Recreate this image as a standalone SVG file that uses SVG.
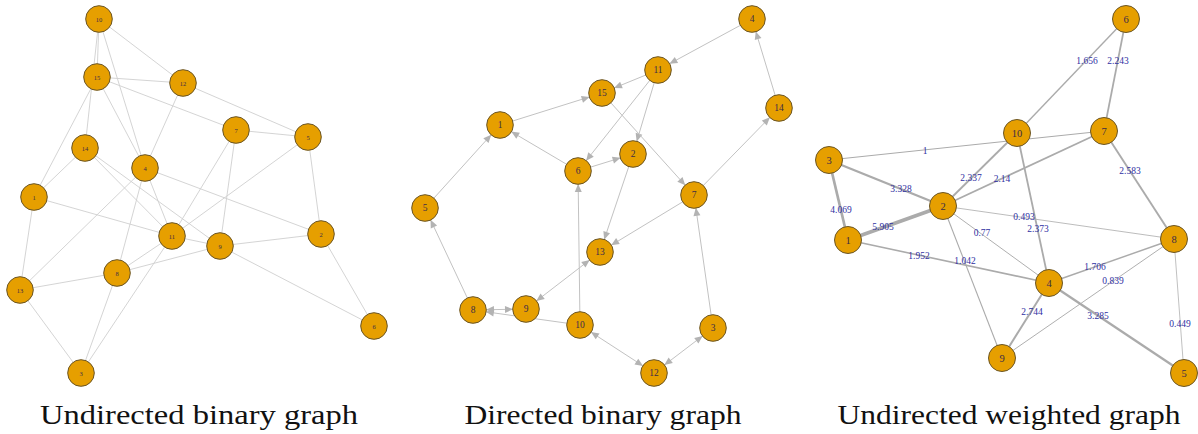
<svg xmlns="http://www.w3.org/2000/svg" width="1198" height="434" viewBox="0 0 1198 434">
<style>
.bg{fill:#ffffff}
.n circle{fill:#E69F00;stroke:#6a5526;stroke-width:1}
.n text{font-family:"Liberation Serif","DejaVu Serif",serif;fill:#3a2c48;text-anchor:middle;dominant-baseline:central}
.L .n text{font-size:6.5px}
.M .n text{font-size:9.5px}
.R .n text{font-size:10.5px}
.eL line{stroke:#cfcfcf;stroke-width:0.9}
.eM line{stroke:#c2c2c2;stroke-width:1;marker-end:url(#arr)}
.eM line.both{marker-start:url(#arr)}
.eR line{stroke:#ababab}
.wl{font-family:"Liberation Serif","DejaVu Serif",serif;font-size:9.5px;fill:#2f2fa2;text-anchor:middle;dominant-baseline:central}
.cap{font-family:"Liberation Serif","DejaVu Serif",serif;font-size:27px;fill:#111;text-anchor:middle}
</style>
<defs>
<marker id="arr" markerUnits="userSpaceOnUse" markerWidth="30" markerHeight="10" refX="21" refY="3.5" orient="auto-start-reverse" overflow="visible">
<path d="M0,0 L8,3.5 L0,7 z" fill="#b3b3b3"/>
</marker>
</defs>
<rect class="bg" x="0" y="0" width="1198" height="434"/>

<!-- LEFT: Undirected binary graph -->
<g class="L">
<g id="edges-left" class="eL">
<line x1="99" y1="19" x2="97" y2="77"/>
<line x1="99" y1="19" x2="85" y2="148"/>
<line x1="99" y1="19" x2="183" y2="83"/>
<line x1="99" y1="19" x2="145" y2="168"/>
<line x1="97" y1="77" x2="183" y2="83"/>
<line x1="97" y1="77" x2="236" y2="130"/>
<line x1="97" y1="77" x2="145" y2="168"/>
<line x1="97" y1="77" x2="34" y2="197"/>
<line x1="183" y1="83" x2="145" y2="168"/>
<line x1="183" y1="83" x2="308" y2="137"/>
<line x1="236" y1="130" x2="308" y2="137"/>
<line x1="236" y1="130" x2="172" y2="236"/>
<line x1="236" y1="130" x2="220" y2="246"/>
<line x1="308" y1="137" x2="172" y2="236"/>
<line x1="308" y1="137" x2="321" y2="234"/>
<line x1="85" y1="148" x2="34" y2="197"/>
<line x1="85" y1="148" x2="172" y2="236"/>
<line x1="85" y1="148" x2="220" y2="246"/>
<line x1="145" y1="168" x2="20" y2="290"/>
<line x1="145" y1="168" x2="117" y2="273"/>
<line x1="145" y1="168" x2="321" y2="234"/>
<line x1="145" y1="168" x2="172" y2="236"/>
<line x1="34" y1="197" x2="172" y2="236"/>
<line x1="34" y1="197" x2="20" y2="290"/>
<line x1="172" y1="236" x2="220" y2="246"/>
<line x1="172" y1="236" x2="117" y2="273"/>
<line x1="172" y1="236" x2="81" y2="373"/>
<line x1="220" y1="246" x2="321" y2="234"/>
<line x1="220" y1="246" x2="117" y2="273"/>
<line x1="220" y1="246" x2="374" y2="326"/>
<line x1="321" y1="234" x2="374" y2="326"/>
<line x1="117" y1="273" x2="20" y2="290"/>
<line x1="117" y1="273" x2="81" y2="373"/>
<line x1="20" y1="290" x2="81" y2="373"/>
</g>
<g id="L10" class="n"><circle cx="99" cy="19" r="13.3"/><text x="99" y="19">10</text></g>
<g id="L15" class="n"><circle cx="97" cy="77" r="13.3"/><text x="97" y="77">15</text></g>
<g id="L12" class="n"><circle cx="183" cy="83" r="13.3"/><text x="183" y="83">12</text></g>
<g id="L7" class="n"><circle cx="236" cy="130" r="13.3"/><text x="236" y="130">7</text></g>
<g id="L5" class="n"><circle cx="308" cy="137" r="13.3"/><text x="308" y="137">5</text></g>
<g id="L14" class="n"><circle cx="85" cy="148" r="13.3"/><text x="85" y="148">14</text></g>
<g id="L4" class="n"><circle cx="145" cy="168" r="13.3"/><text x="145" y="168">4</text></g>
<g id="L1" class="n"><circle cx="34" cy="197" r="13.3"/><text x="34" y="197">1</text></g>
<g id="L11" class="n"><circle cx="172" cy="236" r="13.3"/><text x="172" y="236">11</text></g>
<g id="L9" class="n"><circle cx="220" cy="246" r="13.3"/><text x="220" y="246">9</text></g>
<g id="L2" class="n"><circle cx="321" cy="234" r="13.3"/><text x="321" y="234">2</text></g>
<g id="L8" class="n"><circle cx="117" cy="273" r="13.3"/><text x="117" y="273">8</text></g>
<g id="L13" class="n"><circle cx="20" cy="290" r="13.3"/><text x="20" y="290">13</text></g>
<g id="L6" class="n"><circle cx="374" cy="326" r="13.3"/><text x="374" y="326">6</text></g>
<g id="L3" class="n"><circle cx="81" cy="373" r="13.3"/><text x="81" y="373">3</text></g>
</g>

<!-- MIDDLE: Directed binary graph -->
<g class="M">
<g id="edges-middle" class="eM">
<line x1="752" y1="19" x2="658" y2="70"/>
<line x1="658" y1="70" x2="602" y2="93"/>
<line x1="500" y1="125" x2="602" y2="93"/>
<line x1="779" y1="108" x2="752" y2="19"/>
<line x1="658" y1="70" x2="578" y2="171"/>
<line x1="658" y1="70" x2="633" y2="154"/>
<line x1="602" y1="93" x2="694" y2="195"/>
<line x1="578" y1="171" x2="500" y2="125"/>
<line x1="578" y1="171" x2="633" y2="154"/>
<line x1="425" y1="208" x2="500" y2="125"/>
<line x1="694" y1="195" x2="779" y2="108"/>
<line x1="580" y1="325" x2="578" y2="171"/>
<line x1="633" y1="154" x2="600" y2="252"/>
<line x1="694" y1="195" x2="600" y2="252"/>
<line class="both" x1="526" y1="309" x2="600" y2="252"/>
<line x1="473" y1="310" x2="425" y2="208"/>
<line class="both" x1="526" y1="309" x2="473" y2="310"/>
<line x1="580" y1="325" x2="473" y2="310"/>
<line class="both" x1="580" y1="325" x2="654" y2="373"/>
<line class="both" x1="713" y1="328" x2="654" y2="373"/>
<line x1="713" y1="328" x2="694" y2="195"/>
</g>
<g id="M4" class="n"><circle cx="752" cy="19" r="13.3"/><text x="752" y="19">4</text></g>
<g id="M11" class="n"><circle cx="658" cy="70" r="13.3"/><text x="658" y="70">11</text></g>
<g id="M15" class="n"><circle cx="602" cy="93" r="13.3"/><text x="602" y="93">15</text></g>
<g id="M14" class="n"><circle cx="779" cy="108" r="13.3"/><text x="779" y="108">14</text></g>
<g id="M1" class="n"><circle cx="500" cy="125" r="13.3"/><text x="500" y="125">1</text></g>
<g id="M2" class="n"><circle cx="633" cy="154" r="13.3"/><text x="633" y="154">2</text></g>
<g id="M6" class="n"><circle cx="578" cy="171" r="13.3"/><text x="578" y="171">6</text></g>
<g id="M7" class="n"><circle cx="694" cy="195" r="13.3"/><text x="694" y="195">7</text></g>
<g id="M5" class="n"><circle cx="425" cy="208" r="13.3"/><text x="425" y="208">5</text></g>
<g id="M13" class="n"><circle cx="600" cy="252" r="13.3"/><text x="600" y="252">13</text></g>
<g id="M8" class="n"><circle cx="473" cy="310" r="13.3"/><text x="473" y="310">8</text></g>
<g id="M9" class="n"><circle cx="526" cy="309" r="13.3"/><text x="526" y="309">9</text></g>
<g id="M10" class="n"><circle cx="580" cy="325" r="13.3"/><text x="580" y="325">10</text></g>
<g id="M3" class="n"><circle cx="713" cy="328" r="13.3"/><text x="713" y="328">3</text></g>
<g id="M12" class="n"><circle cx="654" cy="373" r="13.3"/><text x="654" y="373">12</text></g>
</g>

<!-- RIGHT: Undirected weighted graph -->
<g class="R">
<g id="edges-right" class="eR">
<line x1="1126" y1="19" x2="1017" y2="133" stroke-width="1.4"/>
<line x1="1126" y1="19" x2="1104" y2="131" stroke-width="1.75"/>
<line x1="829" y1="160" x2="1104" y2="131" stroke-width="1.05"/>
<line x1="829" y1="160" x2="943" y2="206" stroke-width="2.3"/>
<line x1="829" y1="160" x2="848" y2="240" stroke-width="2.7"/>
<line x1="1017" y1="133" x2="943" y2="206" stroke-width="1.8"/>
<line x1="1104" y1="131" x2="943" y2="206" stroke-width="1.7"/>
<line x1="1104" y1="131" x2="1174" y2="239" stroke-width="1.9"/>
<line x1="848" y1="240" x2="943" y2="206" stroke-width="3.7"/>
<line x1="943" y1="206" x2="1174" y2="239" stroke-width="0.8"/>
<line x1="1017" y1="133" x2="1049" y2="283" stroke-width="1.8"/>
<line x1="943" y1="206" x2="1049" y2="283" stroke-width="0.95"/>
<line x1="848" y1="240" x2="1049" y2="283" stroke-width="1.6"/>
<line x1="943" y1="206" x2="1002" y2="358" stroke-width="1.1"/>
<line x1="1049" y1="283" x2="1174" y2="239" stroke-width="1.45"/>
<line x1="1002" y1="358" x2="1174" y2="239" stroke-width="0.95"/>
<line x1="1049" y1="283" x2="1002" y2="358" stroke-width="2"/>
<line x1="1049" y1="283" x2="1184" y2="373" stroke-width="2.3"/>
<line x1="1174" y1="239" x2="1184" y2="373" stroke-width="0.75"/>
</g>
<g id="edge-labels-right">
<text class="wl" x="1087" y="61">1.656</text>
<text class="wl" x="1118" y="61">2.243</text>
<text class="wl" x="925" y="151">1</text>
<text class="wl" x="901" y="189">3.328</text>
<text class="wl" x="841" y="210">4.069</text>
<text class="wl" x="971" y="178">2.337</text>
<text class="wl" x="1002" y="179">2.14</text>
<text class="wl" x="1130" y="171">2.583</text>
<text class="wl" x="883" y="227">5.905</text>
<text class="wl" x="1024" y="217">0.493</text>
<text class="wl" x="1038" y="229">2.373</text>
<text class="wl" x="982" y="233">0.77</text>
<text class="wl" x="919" y="256">1.952</text>
<text class="wl" x="965" y="261">1.042</text>
<text class="wl" x="1095" y="267">1.706</text>
<text class="wl" x="1113" y="281">0.839</text>
<text class="wl" x="1032" y="312">2.744</text>
<text class="wl" x="1098" y="316">3.285</text>
<text class="wl" x="1180" y="324">0.449</text>
</g>
<g id="R6" class="n"><circle cx="1126" cy="19" r="13.5"/><text x="1126" y="19">6</text></g>
<g id="R10" class="n"><circle cx="1017" cy="133" r="13.5"/><text x="1017" y="133">10</text></g>
<g id="R7" class="n"><circle cx="1104" cy="131" r="13.5"/><text x="1104" y="131">7</text></g>
<g id="R3" class="n"><circle cx="829" cy="160" r="13.5"/><text x="829" y="160">3</text></g>
<g id="R2" class="n"><circle cx="943" cy="206" r="13.5"/><text x="943" y="206">2</text></g>
<g id="R1" class="n"><circle cx="848" cy="240" r="13.5"/><text x="848" y="240">1</text></g>
<g id="R8" class="n"><circle cx="1174" cy="239" r="13.5"/><text x="1174" y="239">8</text></g>
<g id="R4" class="n"><circle cx="1049" cy="283" r="13.5"/><text x="1049" y="283">4</text></g>
<g id="R9" class="n"><circle cx="1002" cy="358" r="13.5"/><text x="1002" y="358">9</text></g>
<g id="R5" class="n"><circle cx="1184" cy="373" r="13.5"/><text x="1184" y="373">5</text></g>
</g>

<g id="captions">
<text class="cap" x="199" y="424" textLength="318" lengthAdjust="spacingAndGlyphs">Undirected binary graph</text>
<text class="cap" x="603" y="424" textLength="277" lengthAdjust="spacingAndGlyphs">Directed binary graph</text>
<text class="cap" x="1009" y="424" textLength="343" lengthAdjust="spacingAndGlyphs">Undirected weighted graph</text>
</g>
</svg>
